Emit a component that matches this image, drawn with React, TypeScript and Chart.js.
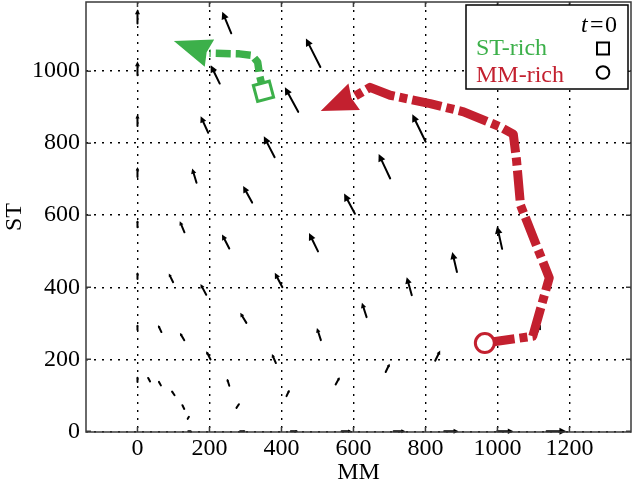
import React, { useEffect, useRef } from 'react';
import { Chart, registerables } from 'chart.js';

Chart.register(...registerables);

// ---- axes ----
const xTicks = [0, 200, 400, 600, 800, 1000, 1200];
const yTicks = [0, 200, 400, 600, 800, 1000];
const xMin = -143;
const xMax = 1371;
const yMin = -2;
const yMax = 1192;

// ---- quiver field: arrow centre (x, y) and vector (u, v), data units ----
const arrowX = [
  0, 0, 0, 0, 0, 0, 0, 0,
  32, 62, 93, 124, 158, 186, 216, 248,
  62, 124, 183, 245, 306, 366, 428, 488,
  99, 197, 294, 392, 489, 589, 686, 782,
  127, 252, 379, 504, 630, 755, 881, 1006,
  141, 279, 418, 556, 695, 834, 973, 1112,
  144, 292, 436, 581, 728, 872, 1022, 1164,
];
const arrowY = [
  144, 288, 432, 576, 720, 864, 1008, 1152,
  144, 285, 426, 568, 710, 852, 991, 1135,
  133, 263, 394, 527, 658, 790, 921, 1051,
  106, 211, 315, 420, 525, 632, 736, 842,
  68, 136, 202, 270, 337, 403, 470, 538,
  37, 71, 106, 140, 176, 210, 244, 278,
  0, 0, 0, 0, 0, 0, 0, 0,
];
const arrowU = [
  0, 0, 0, 0, 0, 0, 0, 0,
  -6, -9, -12, -13, -12, -21, -25, -25,
  -6, -12, -16, -20, -25, -30, -37, -40,
  -8, -12, -17, -21, -25, -30, -32, -37,
  -6, -6, -11, -11, -13, -14, -13, -14,
  3, 8, 8, 11, 11, 14, 15, 17,
  6, 14, 20, 28, 33, 40, 45, 55,
];
const arrowV = [
  14, 14, 19, 19, 28, 32, 39, 40,
  11, 19, 24, 31, 40, 46, 51, 60,
  11, 20, 30, 39, 46, 58, 68, 79,
  12, 23, 28, 40, 51, 56, 68, 76,
  12, 19, 25, 34, 40, 50, 55, 63,
  5, 12, 17, 20, 23, 28, 32, 36,
  0, 0, 0, 0, 0, 0, 0, 0,
];

// ---- trajectories ----
const stPathX = [350, 339, 334, 318, 283, 200];
const stPathY = [944, 989, 1025, 1044, 1048, 1050];
const stTip = [101, 1084];
const mmPathX = [965, 1098, 1144, 1064, 1053, 1044, 1006, 906, 813, 702, 646, 602];
const mmPathY = [245, 264, 426, 628, 753, 825, 846, 887, 910, 933, 955, 929];
const mmTip = [509, 889];

const GREEN = '#3cb04a';
const RED = '#c3202f';
const FONT = "'Liberation Serif', 'Times New Roman', serif";

const quiverPlugin = {
  id: 'quiver',
  beforeDatasetsDraw(chart: any) {
    const ctx = chart.ctx;
    const xs = chart.scales.x;
    const ys = chart.scales.y;
    ctx.save();
    ctx.strokeStyle = '#000';
    ctx.fillStyle = '#000';
    ctx.lineWidth = 2;
    ctx.lineCap = 'round';
    for (let i = 0; i < arrowX.length; i++) {
      const x1 = xs.getPixelForValue(arrowX[i] - arrowU[i] / 2);
      const y1 = ys.getPixelForValue(arrowY[i] - arrowV[i] / 2);
      const x2 = xs.getPixelForValue(arrowX[i] + arrowU[i] / 2);
      const y2 = ys.getPixelForValue(arrowY[i] + arrowV[i] / 2);
      const dx = x2 - x1;
      const dy = y2 - y1;
      const len = Math.hypot(dx, dy);
      if (len < 0.5) continue;
      const ux = dx / len;
      const uy = dy / len;
      const hl = Math.min(7.5, 0.35 * len);
      const hw = hl * 0.5;
      const bx = x2 - ux * hl;
      const by = y2 - uy * hl;
      ctx.beginPath();
      ctx.moveTo(x1, y1);
      ctx.lineTo(bx + ux * 1, by + uy * 1);
      ctx.stroke();
      ctx.beginPath();
      ctx.moveTo(x2, y2);
      ctx.lineTo(bx - uy * hw, by + ux * hw);
      ctx.lineTo(bx + uy * hw, by - ux * hw);
      ctx.closePath();
      ctx.fill();
    }
    ctx.restore();
  },
};

function drawHead(chart: any, bxv: number, byv: number, tip: number[], color: string) {
  const ctx = chart.ctx;
  const xs = chart.scales.x;
  const ys = chart.scales.y;
  const bx = xs.getPixelForValue(bxv);
  const by = ys.getPixelForValue(byv);
  const tx = xs.getPixelForValue(tip[0]);
  const ty = ys.getPixelForValue(tip[1]);
  const dx = tx - bx;
  const dy = ty - by;
  const len = Math.hypot(dx, dy);
  const ux = dx / len;
  const uy = dy / len;
  const hw = 14.5;
  ctx.save();
  ctx.fillStyle = color;
  ctx.beginPath();
  ctx.moveTo(tx, ty);
  ctx.lineTo(bx - uy * hw, by + ux * hw);
  ctx.lineTo(bx + ux * 3, by + uy * 3);
  ctx.lineTo(bx + uy * hw, by - ux * hw);
  ctx.closePath();
  ctx.fill();
  ctx.restore();
}

const headsPlugin = {
  id: 'heads',
  afterDatasetsDraw(chart: any) {
    drawHead(chart, stPathX[stPathX.length - 1], stPathY[stPathY.length - 1], stTip, GREEN);
    drawHead(chart, mmPathX[mmPathX.length - 1], mmPathY[mmPathY.length - 1], mmTip, RED);
  },
};

const framePlugin = {
  id: 'frame',
  afterDraw(chart: any) {
    const ctx = chart.ctx;
    const { left, right, top, bottom } = chart.chartArea;
    const xs = chart.scales.x;
    const ys = chart.scales.y;
    ctx.save();
    ctx.strokeStyle = '#3a3a3a';
    ctx.lineWidth = 1.5;
    ctx.strokeRect(left, top, right - left, bottom - top);
    ctx.beginPath();
    const tl = 5;
    xTicks.forEach((v) => {
      const p = xs.getPixelForValue(v);
      ctx.moveTo(p, bottom);
      ctx.lineTo(p, bottom - tl);
      ctx.moveTo(p, top);
      ctx.lineTo(p, top + tl);
    });
    yTicks.forEach((v) => {
      const p = ys.getPixelForValue(v);
      ctx.moveTo(left, p);
      ctx.lineTo(left + tl, p);
      ctx.moveTo(right, p);
      ctx.lineTo(right - tl, p);
    });
    ctx.stroke();

    // tick labels
    ctx.fillStyle = '#000';
    ctx.font = `24px ${FONT}`;
    ctx.textBaseline = 'middle';
    ctx.textAlign = 'center';
    xTicks.forEach((v) => {
      ctx.fillText(String(v), xs.getPixelForValue(v), bottom + 16.5);
    });
    ctx.textAlign = 'right';
    yTicks.forEach((v) => {
      ctx.fillText(String(v), left - 6, ys.getPixelForValue(v));
    });

    // legend box
    const W = 162;
    const H = 84;
    const L = right - 3 - W;
    const T = top + 3;
    ctx.fillStyle = '#fff';
    ctx.fillRect(L, T, W, H);
    ctx.strokeStyle = '#000';
    ctx.lineWidth = 1.5;
    ctx.strokeRect(L, T, W, H);
    ctx.textBaseline = 'alphabetic';
    ctx.textAlign = 'left';
    ctx.fillStyle = '#000';
    ctx.font = `italic 24px ${FONT}`;
    ctx.fillText('t', L + 115, T + 27);
    ctx.font = `24px ${FONT}`;
    ctx.fillText('=', L + 124, T + 27);
    ctx.fillText('0', L + 139, T + 27);
    ctx.fillStyle = GREEN;
    ctx.fillText('ST-rich', L + 10, T + 50);
    ctx.fillStyle = RED;
    ctx.fillText('MM-rich', L + 10, T + 76.5);
    ctx.strokeStyle = '#000';
    ctx.lineWidth = 2;
    ctx.strokeRect(L + 131, T + 37.5, 12, 12);
    ctx.beginPath();
    ctx.arc(L + 137, T + 67.5, 6.3, 0, Math.PI * 2);
    ctx.stroke();
    ctx.restore();
  },
};

export default function App() {
  const ref = useRef<HTMLCanvasElement | null>(null);
  useEffect(() => {
    if (!ref.current) return;
    const font = { family: FONT, size: 24 };
    const chart = new Chart(ref.current, {
      type: 'scatter',
      data: {
        datasets: [
          {
            data: [{ x: stPathX[0], y: stPathY[0] }],
            pointStyle: 'rect',
            pointRotation: -15,
            pointRadius: 11.7,
            pointBorderWidth: 3,
            pointBorderColor: GREEN,
            pointBackgroundColor: '#fff',
            showLine: false,
          } as any,
          {
            data: [{ x: mmPathX[0], y: mmPathY[0] }],
            pointStyle: 'circle',
            pointRadius: 9.5,
            pointBorderWidth: 3,
            pointBorderColor: RED,
            pointBackgroundColor: '#fff',
            showLine: false,
          } as any,
          {
            data: stPathX.map((x, i) => ({ x, y: stPathY[i] })),
            showLine: true,
            borderColor: GREEN,
            borderWidth: 7.5,
            borderDash: [15, 5],
            borderCapStyle: 'butt',
            borderJoinStyle: 'round',
            pointRadius: 0,
            tension: 0,
          } as any,
          {
            data: mmPathX.map((x, i) => ({ x, y: mmPathY[i] })),
            showLine: true,
            borderColor: RED,
            borderWidth: 9,
            borderDash: [30, 5, 8, 5],
            borderCapStyle: 'butt',
            borderJoinStyle: 'round',
            pointRadius: 0,
            tension: 0,
          } as any,
        ],
      },
      options: {
        animation: false,
        responsive: true,
        maintainAspectRatio: false,
        layout: { autoPadding: false, padding: { left: 0, top: 2, right: 3, bottom: 0 } },
        plugins: { legend: { display: false }, tooltip: { enabled: false } },
        scales: {
          x: {
            type: 'linear',
            min: xMin,
            max: xMax,
            afterBuildTicks: (s: any) => {
              s.ticks = xTicks.map((v) => ({ value: v }));
            },
            afterFit: (s: any) => {
              s.height = 55;
            },
            grid: { color: '#000', lineWidth: 1.4, drawTicks: false },
            border: { display: false, dash: [2, 6] },
            ticks: { display: false },
            title: { display: true, text: 'MM', color: '#000', font, padding: 0 },
          },
          y: {
            type: 'linear',
            min: yMin,
            max: yMax,
            afterBuildTicks: (s: any) => {
              s.ticks = yTicks.map((v) => ({ value: v }));
            },
            afterFit: (s: any) => {
              s.width = 86;
            },
            grid: { color: '#000', lineWidth: 1.4, drawTicks: false },
            border: { display: false, dash: [2, 6] },
            ticks: { display: false },
            title: { display: true, text: 'ST', color: '#000', font, padding: 0 },
          },
        },
      } as any,
      plugins: [quiverPlugin, headsPlugin, framePlugin],
    });
    return () => chart.destroy();
  }, []);
  return (
    <div style={{ position: 'fixed', left: 0, top: 0, width: 634, height: 487, background: '#fff' }}>
      <canvas ref={ref} style={{ display: 'block' }} />
    </div>
  );
}
